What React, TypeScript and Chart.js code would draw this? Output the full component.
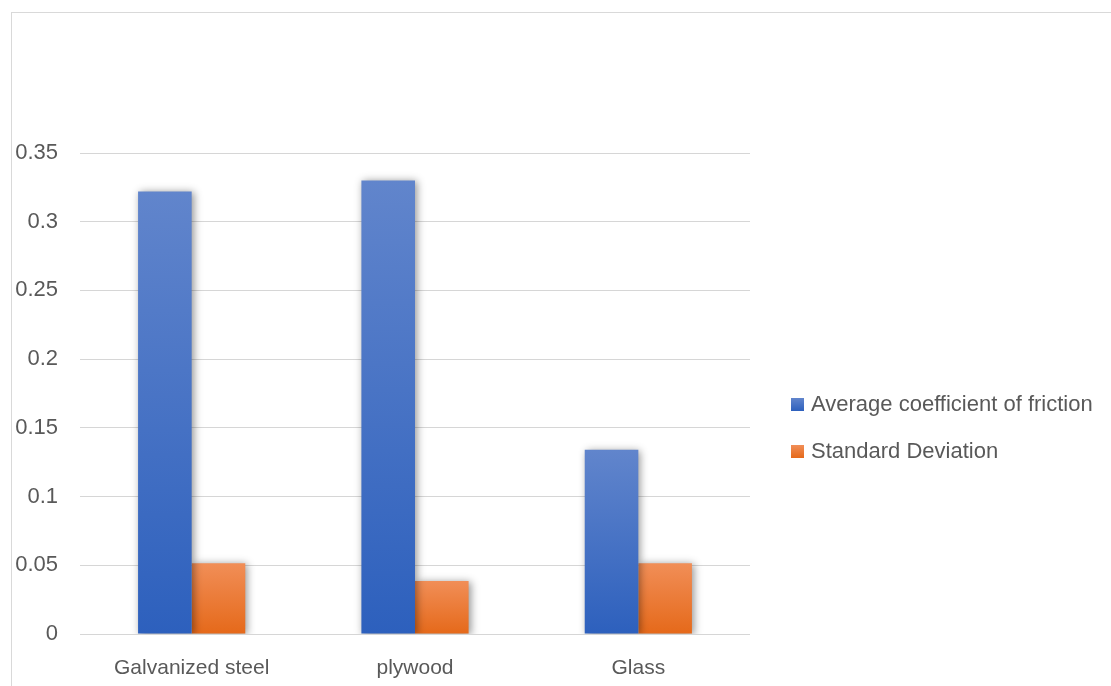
import React, { useEffect, useRef } from "react";
import { Chart, registerables } from "chart.js";

Chart.register(...registerables);

const categories = ["Galvanized steel", "plywood", "Glass"];
const averageFriction = [0.322, 0.33, 0.134];
const standardDeviation = [0.0515, 0.0385, 0.0515];
const seriesNames = ["Average coefficient of friction", "Standard Deviation"];
const yTicks = [0, 0.05, 0.1, 0.15, 0.2, 0.25, 0.3, 0.35];

const FONT = "'Liberation Sans', Arial, sans-serif";
const TEXT = "#595959";

function gradientFor(top: string, bottom: string) {
  return (ctx: any) => {
    const chart = ctx.chart;
    const y = chart.scales?.y;
    if (!chart.chartArea || !y || ctx.raw === undefined) return bottom;
    const yTop = y.getPixelForValue(ctx.raw);
    const yBot = y.getPixelForValue(0);
    const g = chart.ctx.createLinearGradient(0, yTop, 0, yBot);
    g.addColorStop(0, top);
    g.addColorStop(1, bottom);
    return g;
  };
}

const shadowPlugin = {
  id: "barShadow",
  beforeDatasetsDraw(chart: any) {
    const c = chart.ctx;
    c.save();
    c.shadowColor = "rgba(0,0,0,0.42)";
    c.shadowBlur = 8;
    c.shadowOffsetX = 2;
    c.shadowOffsetY = 1;
  },
  afterDatasetsDraw(chart: any) {
    chart.ctx.restore();
  },
};

export default function App() {
  const ref = useRef<HTMLCanvasElement | null>(null);

  useEffect(() => {
    if (!ref.current) return;
    const chart = new Chart(ref.current, {
      type: "bar",
      data: {
        labels: categories,
        datasets: [
          {
            label: seriesNames[0],
            data: averageFriction,
            backgroundColor: gradientFor("#6185cc", "#2d60bd"),
            borderWidth: 0,
            categoryPercentage: 0.48,
            barPercentage: 1,
          },
          {
            label: seriesNames[1],
            data: standardDeviation,
            backgroundColor: gradientFor("#f18e57", "#e5691a"),
            borderWidth: 0,
            categoryPercentage: 0.48,
            barPercentage: 1,
          },
        ],
      },
      options: {
        animation: false,
        responsive: false,
        maintainAspectRatio: false,
        layout: { padding: { left: 0, top: 153, right: 361, bottom: 0 } },
        plugins: {
          legend: { display: false },
          tooltip: { enabled: false },
        },
        scales: {
          x: {
            grid: { display: false },
            border: { display: false },
            ticks: {
              color: TEXT,
              font: { family: FONT, size: 21 },
              padding: 14,
            },
            afterFit(scale: any) {
              scale.height = 52;
            },
          },
          y: {
            min: 0,
            max: 0.35,
            afterBuildTicks(scale: any) {
              scale.ticks = yTicks.map((v) => ({ value: v }));
            },
            grid: { color: "#d6d6d6", lineWidth: 1, drawTicks: false },
            border: { display: false },
            ticks: {
              color: TEXT,
              font: { family: FONT, size: 22 },
              padding: 22,
              callback: (v: any) => String(v),
            },
            afterFit(scale: any) {
              scale.width = 80;
            },
          },
        },
      },
      plugins: [shadowPlugin],
    });
    return () => chart.destroy();
  }, []);

  const legendSwatch = [
    "linear-gradient(#6185cc, #2d60bd)",
    "linear-gradient(#f18e57, #e5691a)",
  ];
  const legendY = [404, 451];

  return (
    <div>
      <div
        style={{
          position: "fixed",
          left: 11,
          top: 12,
          width: 1300,
          height: 900,
          border: "1px solid #d9d9d9",
          boxSizing: "border-box",
        }}
      />
      <canvas
        ref={ref}
        width={1111}
        height={686}
        style={{ position: "fixed", left: 0, top: 0, width: 1111, height: 686 }}
      />
      {seriesNames.map((name, i) => (
        <div
          key={name}
          style={{
            position: "fixed",
            left: 791,
            top: legendY[i] - 15,
            height: 30,
            display: "flex",
            alignItems: "center",
            fontFamily: FONT,
            fontSize: 22,
            color: TEXT,
            whiteSpace: "nowrap",
          }}
        >
          <span
            style={{
              display: "inline-block",
              width: 13,
              height: 13,
              background: legendSwatch[i],
              marginRight: 7,
            }}
          />
          <span>{name}</span>
        </div>
      ))}
    </div>
  );
}
